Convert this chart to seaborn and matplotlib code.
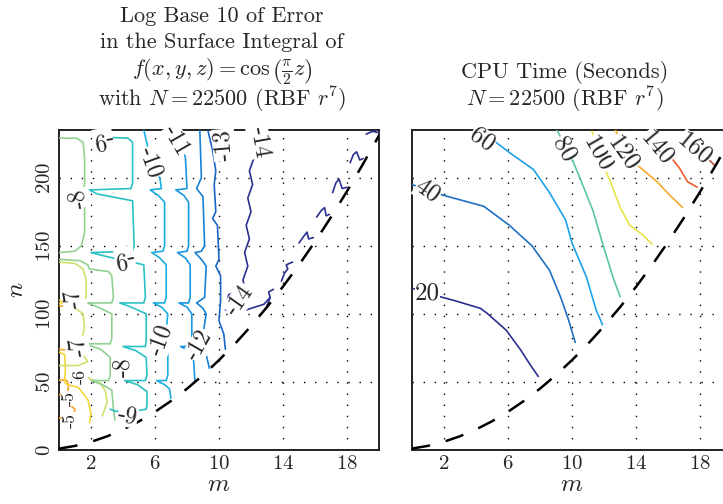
import matplotlib
matplotlib.use("Agg")
import matplotlib.pyplot as plt
import seaborn as sns

# ---------------- data ----------------
m_ticks = [2, 6, 10, 14, 18]
n_ticks = [0, 50, 100, 150, 200]

# lower limit of the (m, n) region: n = (m+1)(m+2)/2
boundary_m = list(range(21))
boundary_n = [1, 3, 6, 10, 15, 21, 28, 36, 45, 55, 66, 78, 91, 105, 120,
              136, 153, 171, 190, 210, 231]

# left panel: log10 error contours, pieces of (m, n)
err5_pieces = [
    [(0, 51.5), (0.5, 51), (0.6, 47), (0.55, 43), (0.3, 41), (0, 40.5)],
    [(0, 23.5), (0.6, 23.5), (0.9, 26), (1.0, 30), (0.7, 33)],
    [(0, 106), (0.3, 105.5)],
    [(0, 74), (0.35, 73.5)],
]
err6_pieces = [
    [(0, 72), (0.35, 70), (0.4, 60), (0.35, 50), (0.5, 48), (1.2, 46),
     (1.8, 37), (2.0, 27), (1.9, 20)],
    [(0, 110), (0.45, 109), (0, 107.5)],
]
err7_pieces = [
    [(0, 138), (1.0, 137), (1.5, 133), (1.7, 125), (1.7, 112), (1.4, 109),
     (0.3, 108), (0.9, 105), (1.5, 100), (1.6, 90), (1.4, 80), (1.3, 76),
     (1.5, 70), (1.8, 65), (1.2, 62), (0, 62)],
    [(0.9, 57), (1.5, 55), (2.0, 52), (2.6, 49), (2.9, 43), (3.0, 35),
     (2.8, 28), (2.7, 25)],
]
err8_pieces = [
    [(0, 229), (1.1, 229), (1.5, 226), (1.6, 215), (1.6, 195), (1.5, 192),
     (1.2, 191), (1.5, 188), (1.6, 180), (1.6, 160), (1.4, 150), (1.0, 146),
     (0, 145)],
    [(0, 140), (1.3, 139), (1.8, 136), (1.9, 133), (3.1, 131), (3.3, 128),
     (3.4, 112), (3.3, 108), (1.8, 108), (2.6, 104), (3.3, 100), (3.3, 82),
     (3.2, 78), (1.6, 78), (2.6, 74), (3.2, 68), (3.2, 55), (3.1, 51),
     (2.0, 51), (2.7, 48), (3.3, 44), (3.4, 30), (3.5, 22)],
]
err9_pieces = [
    [(2.1, 235), (2.2, 230), (4.3, 229), (4.6, 226), (4.6, 196), (4.5, 192),
     (1.9, 191), (2.4, 188), (4.6, 183), (4.7, 150), (4.6, 146), (2.0, 145),
     (3.0, 142), (5.3, 136), (5.4, 112), (5.3, 108), (3.8, 108), (4.5, 105),
     (5.45, 100), (5.45, 80), (5.4, 76), (4.0, 76), (4.8, 73), (5.45, 68),
     (5.5, 55), (5.4, 51), (4.1, 51), (4.9, 48), (5.5, 43), (5.5, 33),
     (5.45, 30), (4.5, 28), (3.5, 28.5), (3.2, 30)],
]
err10_pieces = [
    [(5.3, 235), (5.5, 225), (5.9, 205), (6.3, 200), (6.4, 192), (5.7, 191),
     (6.2, 187), (6.6, 182), (6.6, 150), (6.5, 146), (5.8, 145), (6.3, 141),
     (6.7, 136), (6.7, 112), (6.6, 108), (5.9, 108), (6.4, 105), (6.8, 100),
     (6.7, 88), (6.5, 80), (6.8, 70), (6.8, 55), (6.7, 51), (6.1, 51),
     (6.6, 48), (6.9, 45), (7.0, 38)],
]
err11_pieces = [
    [(7.0, 235), (7.6, 225), (7.9, 215), (8.0, 192), (7.3, 191), (7.8, 187),
     (8.1, 182), (8.1, 150), (8.0, 146), (7.4, 145), (7.9, 141), (8.2, 136),
     (8.2, 112), (8.1, 108), (7.5, 108), (8.0, 105), (8.3, 100), (8.3, 80),
     (8.2, 76), (7.6, 76), (8.1, 73), (8.4, 68), (8.5, 50)],
]
err12_pieces = [
    [(8.8, 235), (8.9, 200), (8.6, 192), (9.0, 186), (9.1, 150), (8.9, 146),
     (8.5, 145), (8.9, 140), (9.2, 135), (9.1, 112), (8.6, 108), (9.0, 104),
     (9.2, 100), (9.0, 85), (8.8, 77), (9.2, 70), (9.4, 60)],
]
err13_pieces = [
    [(9.3, 235), (9.6, 220), (9.8, 205), (9.7, 195), (9.8, 175), (9.6, 170),
     (9.9, 165), (10.0, 140), (9.8, 135), (10.1, 128), (10.1, 110),
     (10.0, 95), (10.3, 85), (10.4, 74)],
]
err14_pieces = [
    [(12.2, 235), (12.0, 225), (12.2, 215), (11.9, 205), (12.1, 195),
     (11.8, 185), (12.0, 175), (11.7, 165), (11.9, 155), (11.6, 145),
     (11.8, 135), (11.5, 125), (11.6, 118), (11.0, 116), (10.6, 114),
     (10.5, 108), (10.4, 103), (11.2, 101), (12.0, 104), (12.8, 107),
     (13.2, 112)],
    [(13.0, 106), (13.2, 112), (13.1, 116), (13.4, 118)],
    [(13.9, 124), (14.1, 130), (14.3, 133), (14.2, 136), (14.6, 138)],
    [(15.0, 152), (15.3, 157), (15.5, 160), (15.6, 155), (15.9, 156)],
    [(16.1, 171), (16.4, 176), (16.6, 178), (16.7, 172), (16.9, 173)],
    [(17.1, 189), (17.3, 196), (17.5, 199), (17.7, 192), (18.0, 193)],
    [(18.2, 211), (18.4, 217), (18.6, 219), (18.8, 213), (19.0, 214)],
    [(19.2, 232), (19.6, 234), (20.0, 233)],
]
err_levels = [-5, -6, -7, -8, -9, -10, -11, -12, -13, -14]
err_pieces = [err5_pieces, err6_pieces, err7_pieces, err8_pieces, err9_pieces,
              err10_pieces, err11_pieces, err12_pieces, err13_pieces,
              err14_pieces]
err_colors = ["#f3a42c", "#f4d63a", "#cfe06c", "#90d190", "#2ac0c4",
              "#1aaee2", "#1997e0", "#1582d8", "#1a66c8", "#2b2f8f"]

# contour labels (text, m, n, rotation, size)
err_label_text = ["-9", "-10", "-11", "-13", "-14", "-14", "-12", "-10",
                  "-9", "-8", "-7", "-7", "-8", "-6", "-5", "-5", "-9"]
err_label_m = [2.75, 5.7, 7.3, 10.3, 12.5, 11.3, 8.8, 6.4,
               4.1, 1.2, 0.9, 1.2, 4.0, 1.3, 0.6, 0.7, 4.3]
err_label_n = [228, 211, 227, 224, 226, 110, 77, 81,
               141, 185, 111, 76, 61, 54, 38, 22, 25]
err_label_rot = [190, -70, -60, 95, -80, 55, 60, 70,
                 190, 100, 100, 100, 90, 90, 90, 90, -10]
err_label_size = [17, 17, 17, 17, 17, 17, 17, 17,
                  17, 17, 17, 17, 17, 13, 13, 13, 17]

# right panel: CPU time contours
cpu_levels = [20, 40, 60, 80, 100, 120, 140, 160]
cpu20_m = [0, 1.0, 2.6, 4.3, 4.7, 5.9, 6.8, 7.4, 7.9]
cpu20_n = [119, 115, 110, 104, 100.5, 88, 73.5, 62.5, 54]
cpu40_m = [0, 2.0, 4.5, 6.1, 7.5, 8.6, 9.3, 9.8, 10.2]
cpu40_n = [195, 187, 179, 165, 150, 132, 112, 95, 79]
cpu60_m = [4.25, 6.15, 7.6, 8.6, 9.6, 10.0, 10.9, 11.5, 11.9]
cpu60_n = [235, 218, 206, 189, 169, 152, 127, 103, 92]
cpu80_m = [9.05, 9.85, 10.45, 11.3, 11.9, 12.55, 13.0]
cpu80_n = [235, 218, 201, 176, 152, 127, 112.5]
cpu100_m = [11.25, 11.75, 12.4, 13.0, 13.6, 14.4, 15.0]
cpu100_n = [234, 214, 197, 178, 165, 158, 151]
cpu120_m = [12.7, 13.2, 14.1, 15.3, 16.1, 16.9]
cpu120_n = [235, 224, 209, 197, 187, 178]
cpu140_m = [14.75, 15.9, 16.7, 17.2, 17.8]
cpu140_n = [235, 219, 207, 197, 193]
cpu160_m = [17.3, 18.0, 18.9]
cpu160_n = [230, 219, 209]
cpu_m = [cpu20_m, cpu40_m, cpu60_m, cpu80_m, cpu100_m, cpu120_m, cpu140_m,
         cpu160_m]
cpu_n = [cpu20_n, cpu40_n, cpu60_n, cpu80_n, cpu100_n, cpu120_n, cpu140_n,
         cpu160_n]
cpu_colors = ["#2b2f8f", "#1f70c2", "#1da1e8", "#5cc6a4", "#e6e348",
              "#f7a72b", "#f05a2a", "#c0503a"]

cpu_label_text = ["20", "40", "60", "80", "100", "120", "140", "160"]
cpu_label_m = [1.0, 1.0, 4.4, 9.5, 11.6, 13.2, 15.3, 17.6]
cpu_label_n = [115, 190, 228, 221, 217, 218, 222, 221]
cpu_label_rot = [0, -35, -35, -60, -60, -55, -50, -40]

# ---------------- style ----------------
sns.set_style("white")
plt.rcParams["font.family"] = "serif"
plt.rcParams["font.serif"] = ["cmr10", "DejaVu Serif"]
plt.rcParams["mathtext.fontset"] = "cm"
plt.rcParams["axes.formatter.use_mathtext"] = True
plt.rcParams["axes.unicode_minus"] = False

fig = plt.figure(figsize=(7.23, 5.04), dpi=100)
ax_err = fig.add_axes([59 / 723, 54 / 504, 320 / 723, 320 / 504])
ax_cpu = fig.add_axes([411.5 / 723, 54 / 504, 321 / 723, 320 / 504])

label_kw = dict(ha="center", va="center", rotation_mode="anchor",
                bbox=dict(facecolor="white", edgecolor="none", pad=0.1),
                zorder=5)


def dress(ax):
    ax.set_xlim(0, 20)
    ax.set_ylim(0, 235)
    ax.set_xticks(m_ticks)
    ax.set_yticks(n_ticks)
    ax.grid(True, color="black", linestyle=(0, (1, 7)), linewidth=1)
    ax.tick_params(labelsize=15, direction="in", length=3, color="#333333")
    for s in ax.spines.values():
        s.set_color("#222222")
        s.set_linewidth(1.4)
    ax.set_xlabel("$m$", fontsize=18, labelpad=1)
    sns.lineplot(x=boundary_m, y=boundary_n, ax=ax, color="black",
                 linewidth=1.8, dashes=False, sort=False, estimator=None,
                 zorder=4).lines[-1].set_dashes([7.5, 6.5])


# left panel
for pieces, col in zip(err_pieces, err_colors):
    for piece in pieces:
        xs = [p[0] for p in piece]
        ys = [p[1] for p in piece]
        sns.lineplot(x=xs, y=ys, ax=ax_err, color=col, linewidth=1.2,
                     sort=False, estimator=None, zorder=3)
for t, mm, nn, r, fs in zip(err_label_text, err_label_m, err_label_n,
                            err_label_rot, err_label_size):
    ax_err.text(mm, nn, t, rotation=r, fontsize=fs, **label_kw)
dress(ax_err)
ax_err.set_ylabel("$n$", fontsize=18, labelpad=6)
for lab in ax_err.get_yticklabels():
    lab.set_rotation(90)
    lab.set_va("center")

# right panel
for xs, ys, col in zip(cpu_m, cpu_n, cpu_colors):
    sns.lineplot(x=xs, y=ys, ax=ax_cpu, color=col, linewidth=1.2,
                 sort=False, estimator=None, zorder=3)
for t, mm, nn, r in zip(cpu_label_text, cpu_label_m, cpu_label_n, cpu_label_rot):
    ax_cpu.text(mm, nn, t, rotation=r, fontsize=18, **label_kw)
dress(ax_cpu)
ax_cpu.set_yticklabels([])

# titles
title_kw = dict(fontsize=16, ha="center", va="center")
fig.text(222 / 723, 1 - 16 / 504, "Log Base 10 of Error", **title_kw)
fig.text(222 / 723, 1 - 42 / 504, "in the Surface Integral of", **title_kw)
fig.text(222 / 723, 1 - 72 / 504,
         r"$f(x,y,z) = \cos\left(\frac{\pi}{2}z\right)$", **title_kw)
fig.text(222 / 723, 1 - 100 / 504, r"with $N = 22500$ (RBF $r^7$)", **title_kw)
fig.text(565 / 723, 1 - 73 / 504, "CPU Time (Seconds)", **title_kw)
fig.text(565 / 723, 1 - 100 / 504, r"$N = 22500$ (RBF $r^7$)", **title_kw)

fig.savefig("out.png", dpi=100)
